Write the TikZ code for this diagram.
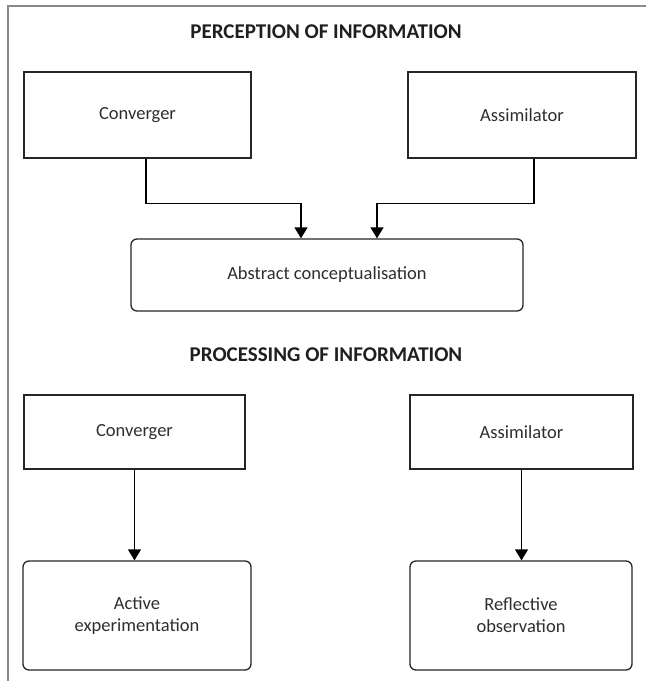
\documentclass[tikz,border=0pt]{standalone}
\usepackage{fontspec}
\setmainfont{Carlito}
\usetikzlibrary{arrows.meta}
\definecolor{txt}{HTML}{2E2E2E}
\definecolor{frm}{HTML}{8A8A8A}
\definecolor{edge}{HTML}{262626}
\tikzset{
  sqbox/.style={draw=edge, line width=1.3pt, text=txt, align=center, inner sep=0pt,
    font=\fontsize{18.5}{22}\selectfont},
  rbox/.style={sqbox, rounded corners=6pt},
  ttl/.style={text=black!88, font=\bfseries\fontsize{21}{25}\selectfont, inner sep=0pt},
  arr/.style={draw=black, line width=1.4pt, -{Triangle[width=13pt,length=11pt]}},
}
\begin{document}
\begin{tikzpicture}[x=1pt, y=-1pt]
\useasboundingbox (0,0) rectangle (646,681);
\draw[frm, line width=2pt] (646,6) -- (8,6) -- (8,681);

\node[ttl] (t1) at (326,32) {PERCEPTION OF INFORMATION};
\node[sqbox, minimum width=227pt, minimum height=86pt] (conv1) at (137.5,115) {Converger};
\node[sqbox, minimum width=228pt, minimum height=86pt] (assim1) at (522,115) {Assimilator};
\node[rbox, minimum width=392pt, minimum height=72pt] (abs) at (327,275) {Abstract conceptualisation};

\draw[arr] ([xshift=8.5pt]conv1.south) -- ++(0,45) -| ([xshift=-26pt]abs.north);
\draw[arr] ([xshift=12pt]assim1.south) -- ++(0,45) -| ([xshift=50pt]abs.north);

\node[ttl] (t2) at (326,355) {PROCESSING OF INFORMATION};
\node[sqbox, minimum width=221pt, minimum height=74pt] (conv2) at (134.5,432) {Converger};
\node[sqbox, minimum width=223pt, minimum height=74pt] (assim2) at (521.5,432) {Assimilator};
\node[rbox, minimum width=228pt, minimum height=109pt] (act) at (137,615.5) {Active\\experimentation};
\node[rbox, minimum width=222pt, minimum height=109pt] (refl) at (521,615.5) {Reflective\\observation};

\draw[arr] (conv2.south) -- (conv2.south |- act.north);
\draw[arr] (assim2.south) -- (assim2.south |- refl.north);
\end{tikzpicture}
\end{document}
